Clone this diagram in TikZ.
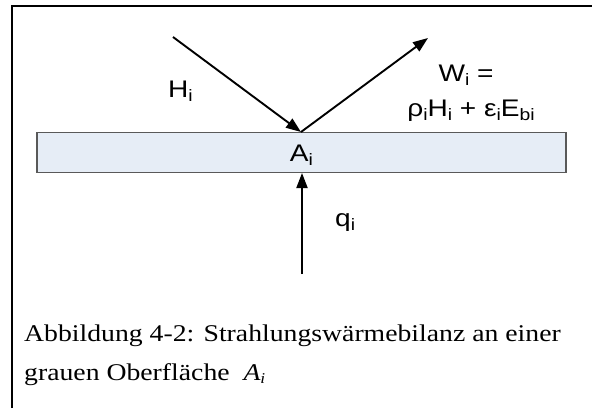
\documentclass[tikz,border=0pt]{standalone}
\usepackage{fontspec}
\setmainfont{Liberation Sans}
\newfontfamily\capfont{Liberation Serif}
\usetikzlibrary{arrows.meta}
\definecolor{surffill}{RGB}{230,237,246}
\newcommand\subsc[1]{\raisebox{-0.33ex}{\fontsize{16.5}{16.5}\selectfont #1}}
\newcommand\wide[1]{\scalebox{1.17}[1]{#1}}
\tikzset{
  flow/.style={line width=1.9pt, -{Triangle[length=15pt,width=11pt]}},
  lbl/.style={inner sep=0pt, font=\fontsize{24}{28}\selectfont},
  captiontext/.style={inner sep=0pt, anchor=base west, font=\capfont\fontsize{24}{28}\selectfont},
}
\begin{document}
\begin{tikzpicture}[x=1pt,y=-1pt]
\useasboundingbox (0,0) rectangle (592,408);
% frame
\draw[line width=2pt] (12,408) -- (12,6) -- (592,6);
% surface
\node[draw=black!65, line width=1.2pt, fill=surffill, minimum width=529pt, minimum height=40pt, inner sep=0pt] (surf) at (301.5,152.5) {};
\coordinate (hit) at (301,132);
\coordinate (hstart) at (173,37);
\coordinate (wend) at (428,38);
\coordinate (qstart) at (302,274);
\coordinate (qend) at (302,173);
\draw[flow] (hstart) -- (hit);
\draw[flow] (hit) -- (wend);
\draw[flow] (qstart) -- (qend);
% labels
\node[lbl, anchor=base west] (hlab) at (168,97) {\wide{H\subsc{i}}};
\node[lbl, anchor=base] (wlab1) at (466,81) {\wide{W\subsc{i} =}};
\node[lbl, anchor=base] (wlab2) at (471,116) {\wide{ρ\subsc{i}H\subsc{i} + ε\subsc{i}E\subsc{bi}}};
\node[lbl, anchor=base] (alab) at (301.5,161) {\wide{A\subsc{i}}};
\node[lbl, anchor=base west] (qlab) at (335,226) {\wide{q\subsc{i}}};
% caption
\node[captiontext] (cap1) at (24,341) {\scalebox{1.155}[1]{Abbildung 4-2: Strahlungswärmebilanz an einer}};
\node[captiontext] (cap2) at (24,380) {\scalebox{1.155}[1]{grauen Oberfläche\ \ {\itshape A}\raisebox{-0.35ex}{\fontsize{15}{15}\selectfont\itshape i}}};
\end{tikzpicture}
\end{document}
